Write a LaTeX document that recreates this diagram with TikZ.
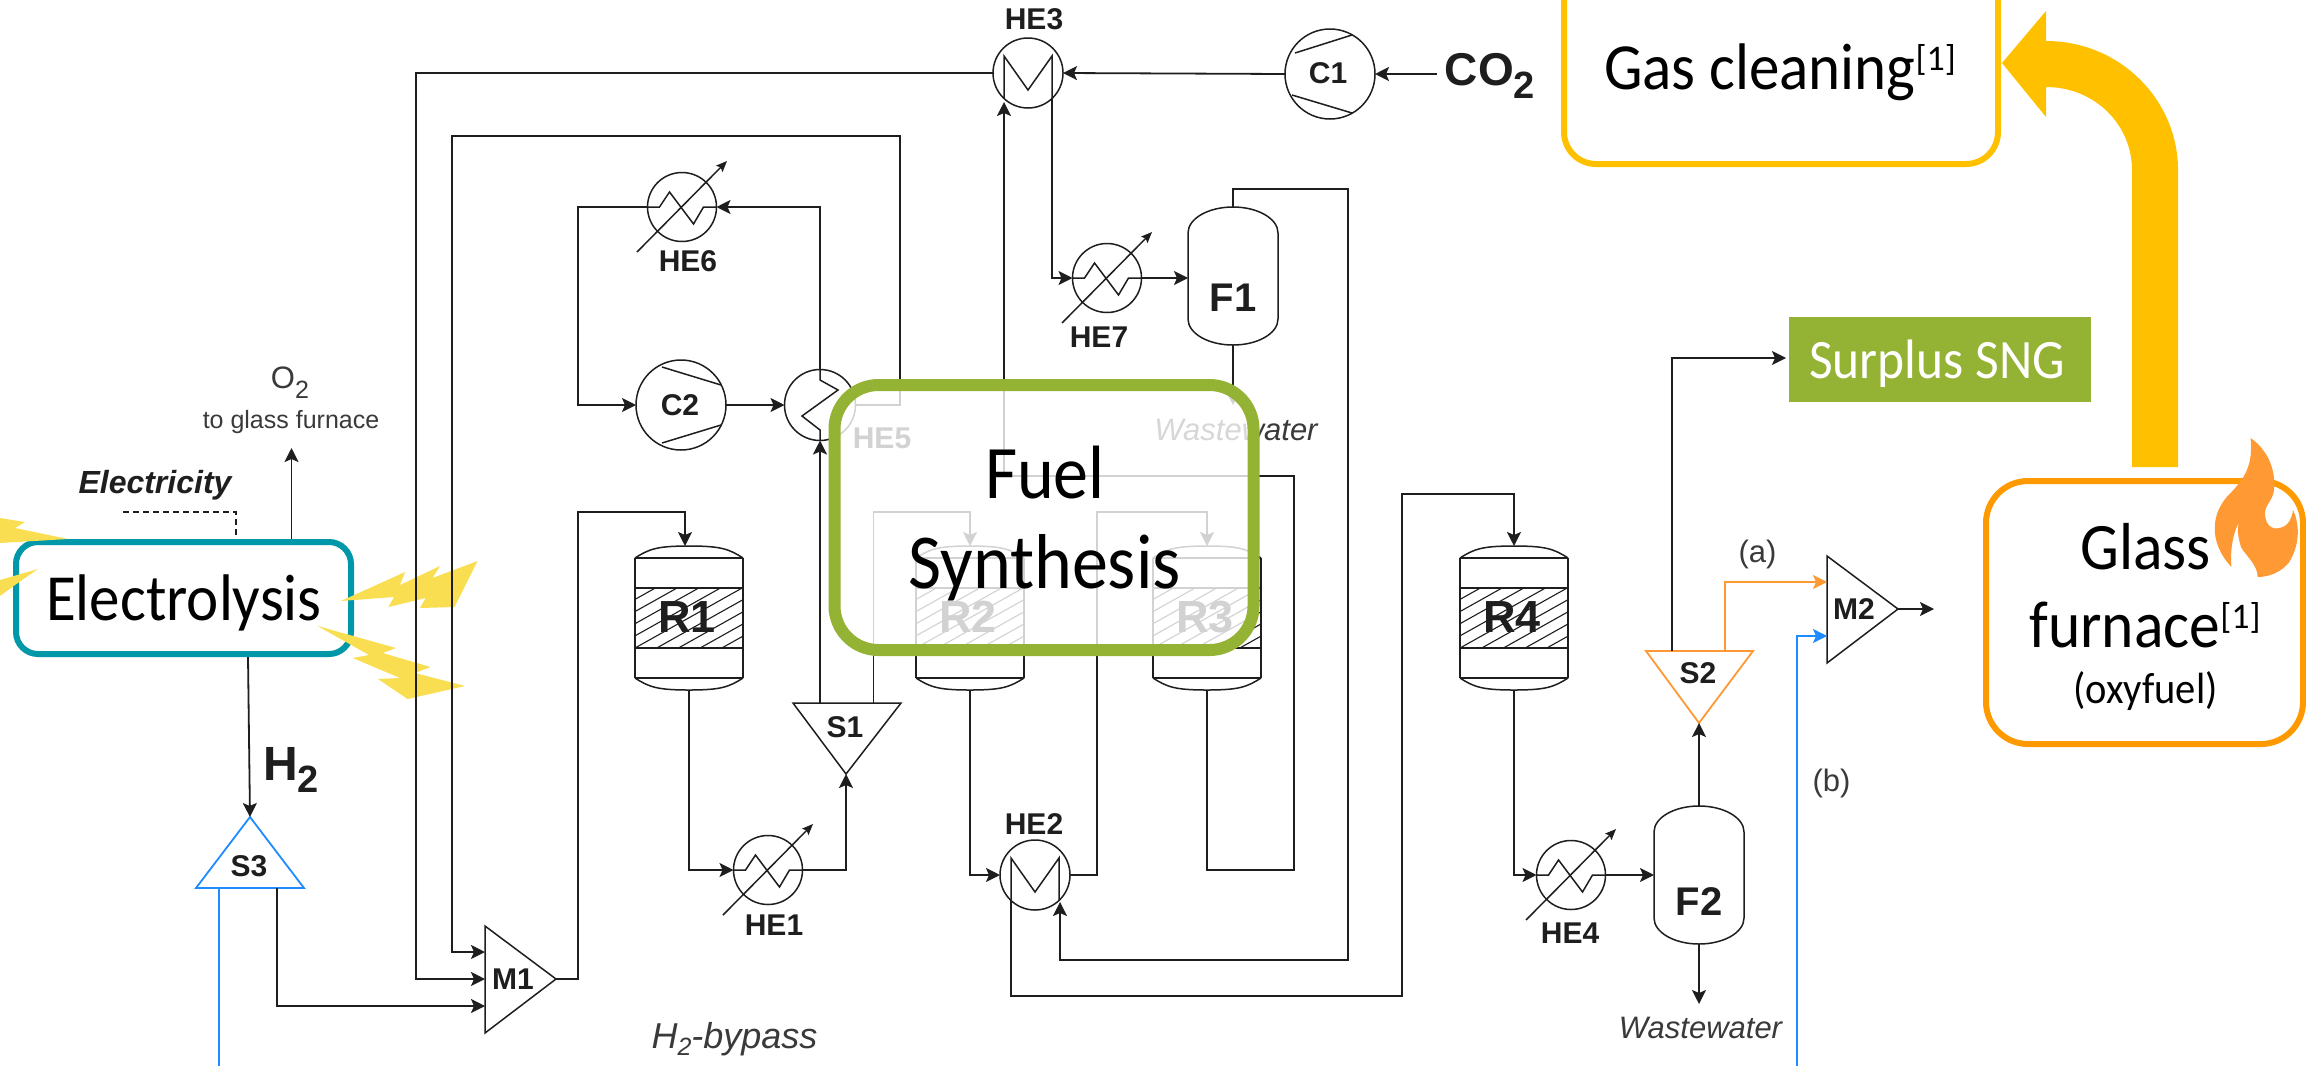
\documentclass[tikz,border=0pt]{standalone}
\usepackage{fontspec}
\setmainfont{Carlito}
\newfontfamily\arialf{Liberation Sans}
\usetikzlibrary{arrows.meta,calc}
\definecolor{ink}{HTML}{1E1E1E}
\definecolor{softink}{HTML}{3A3A3A}
\definecolor{teal1}{HTML}{0097A9}
\definecolor{gold1}{HTML}{FFC000}
\definecolor{orng}{HTML}{FF9900}
\definecolor{orng2}{HTML}{FF9933}
\definecolor{bolt}{HTML}{F9DE52}
\definecolor{grn}{HTML}{94B233}
\definecolor{blu}{HTML}{1E8CFF}
\newcommand\fsz[1]{\fontsize{#1}{#1}\selectfont}
\newcommand\tallr[1]{\scalebox{1}[1.08]{#1}}
\tikzset{
  pipe/.style={draw=ink,line width=1.8pt,line join=miter},
  flow/.style={pipe,-{Stealth[length=14pt,width=14pt,inset=3pt]}},
  unitline/.style={draw=ink,line width=1.5pt},
  he/.style={circle,draw=ink,line width=1.5pt,minimum size=69pt,inner sep=0pt,outer sep=0pt},
  comp/.style={circle,draw=ink,line width=1.5pt,minimum size=90pt,inner sep=0pt,outer sep=0pt},
  lab/.style={font=\arialf\bfseries\fsz{30},text=ink,inner sep=0pt},
  biglab/.style={font=\arialf\bfseries\fsz{45},text=ink,inner sep=0pt},
  flab/.style={font=\arialf\bfseries\fsz{40},text=ink,inner sep=0pt},
  boxtxt/.style={anchor=base,inner sep=0pt,text=black},
  note/.style={anchor=base,inner sep=0pt,text=softink,font=\arialf\fsz{25}},
  wast/.style={anchor=base,inner sep=0pt,text=softink,font=\arialf\itshape\fsz{31}},
  ghost/.style={inner sep=0pt,outer sep=0pt,draw=none,fill=none},
}
% heat exchanger with cooling arrow: zigzag and diagonal
\newcommand\coolmark[1]{%
  \draw[unitline] (#1.west) -- ++(12,0) -- ++(10,-15) -- ++(24,32) -- ++(10,-17) -- (#1.east);
  \draw[unitline,-{Stealth[length=11pt,width=9pt,inset=2pt]}] ([shift={(-45,45)}]#1.center) -- ([shift={(45,-46)}]#1.center);
}
% recuperator: M shape
\newcommand\mmark[1]{%
  \draw[unitline] ([shift={(-24,25)}]#1.center) -- ++(0,-42) -- ++(24,34) -- ++(24,-34) -- ++(0,42);
}
% reactor: name, centre x, label
\newcommand\reactor[3]{%
  \node[ghost,minimum width=108pt,minimum height=144pt] (#1) at (#2,618) {};
  \fill[white] ([yshift=-12pt]#1.north west) .. controls +(14,-9) and +(-32,0) .. (#1.north) .. controls +(32,0) and +(-14,-9) .. ([yshift=-12pt]#1.north east) -- ([yshift=12pt]#1.south east) .. controls +(-14,9) and +(32,0) .. (#1.south) .. controls +(-32,0) and +(14,9) .. ([yshift=12pt]#1.south west) -- cycle;
  \begin{scope}
    \clip ([yshift=-42pt]#1.north west) rectangle ([yshift=42pt]#1.south east);
    \foreach \k in {-6,...,9}{
      \draw[draw=ink,line width=1.1pt] ($(#1.north west)+(\k*21.7,102)$) -- ++(150,-84);
    }
  \end{scope}
  \draw[unitline] ([yshift=-12pt]#1.north west) .. controls +(14,-9) and +(-32,0) .. (#1.north) .. controls +(32,0) and +(-14,-9) .. ([yshift=-12pt]#1.north east);
  \draw[unitline] ([yshift=12pt]#1.south west) .. controls +(14,9) and +(-32,0) .. (#1.south) .. controls +(32,0) and +(-14,9) .. ([yshift=12pt]#1.south east);
  \draw[unitline] ([yshift=-12pt]#1.north west) -- ([yshift=12pt]#1.south west);
  \draw[unitline] ([yshift=-12pt]#1.north east) -- ([yshift=12pt]#1.south east);
  \foreach \s/\d in {north/-12,north/-42,south/42,south/12}{
    \draw[unitline,line width=2pt] ([yshift=\d pt]#1.\s\space west) -- ([yshift=\d pt]#1.\s\space east);
  }
  \node[biglab] at (#2-2,617) {#3};
}
% flash drum: name, cx, top, bottom, label, label y
\newcommand\flash[6]{%
  \node[ghost,minimum width=90pt,minimum height=#4pt-#3pt] (#1) at (#2,{(#3+#4)/2}) {};
  \draw[unitline] ([yshift=-26pt]#1.north west) arc[x radius=45,y radius=-26,start angle=180,end angle=0] -- ([yshift=26pt]#1.south east) arc[x radius=45,y radius=-26,start angle=0,end angle=-180] -- cycle;
  \node[flab] at (#2,#6) {#5};
}
\begin{document}
\begin{tikzpicture}[x=1pt,y=-1pt]
\path[use as bounding box,fill=white] (0,0) rectangle (2306,1066);

% ---------- equipment ----------
\node[he,minimum size=70pt] (HE3) at (1028,73) {};
\mmark{HE3}
\node[lab] (HE3l) at (1034,19) {HE3};
\node[comp] (C1) at (1330,74) {};
\draw[unitline] (1295,53) -- (1352,35) (1292,95) -- (1352,113);
\node[lab] (C1l) at (1328,73) {C1};
\node[he] (HE6) at (682,207) {};
\coolmark{HE6}
\node[lab] (HE6l) at (688,261) {HE6};
\node[comp] (C2) at (681,405) {};
\draw[unitline] (662,367) -- (721,385) (662,443) -- (721,425);
\node[lab] (C2l) at (680,405) {C2};
\node[he,minimum size=71pt] (HE5) at (820,405) {};
\draw[unitline] (HE5.south) -- (820,430) -- (802,416) -- (838,390) -- (820,380) -- (HE5.north);
\node[lab,anchor=center] (HE5l) at (882,438) {HE5};
\node[he] (HE7) at (1107,278) {};
\coolmark{HE7}
\node[lab] (HE7l) at (1099,337) {HE7};
\flash{F1}{1233}{207}{345}{F1}{298}
\node[he] (HE1) at (768,870) {};
\coolmark{HE1}
\node[lab] (HE1l) at (774,925) {HE1};
\node[he,minimum size=70pt] (HE2) at (1035,875) {};
\mmark{HE2}
\node[lab] (HE2l) at (1034,824) {HE2};
\node[he] (HE4) at (1571,875) {};
\coolmark{HE4}
\node[lab] (HE4l) at (1570,933) {HE4};
\flash{F2}{1699}{806}{944}{F2}{902}
\reactor{R1}{689}{R1}
\reactor{R2}{970}{R2}
\reactor{R3}{1207}{R3}
\reactor{R4}{1514}{R4}

% splitters and mixers
\coordinate (S1a) at (793,703); \coordinate (S1b) at (901,703); \coordinate (S1t) at (846,774);
\draw[unitline] (S1a) -- (S1b) -- (S1t) -- cycle;
\node[lab] (S1) at (845,727) {S1};
\coordinate (S2a) at (1646,651); \coordinate (S2b) at (1753,651); \coordinate (S2t) at (1699,723);
\draw[draw=orng2,line width=1.8pt] (S2a) -- (S2b) -- (S2t) -- cycle;
\node[lab] (S2) at (1698,673) {S2};
\coordinate (S3a) at (196,888); \coordinate (S3b) at (304,888); \coordinate (S3t) at (250,817);
\draw[draw=blu,line width=1.8pt] (S3a) -- (S3b) -- (S3t) -- cycle;
\node[lab] (S3) at (249,866) {S3};
\coordinate (M1a) at (485,926); \coordinate (M1b) at (485,1033); \coordinate (M1t) at (556,979);
\draw[unitline] (M1a) -- (M1b) -- (M1t) -- cycle;
\node[lab] (M1) at (513,979) {M1};
\coordinate (M2a) at (1827,556); \coordinate (M2b) at (1827,663); \coordinate (M2t) at (1898,609);
\draw[unitline] (M2a) -- (M2b) -- (M2t) -- cycle;
\node[lab] (M2) at (1854,609) {M2};

% ---------- process boxes ----------
\node[draw=teal1,line width=6pt,fill=white,rounded corners=22pt,minimum width=335pt,minimum height=112pt,inner sep=0pt] (EL) at (183.5,598) {};
\node[boxtxt,font=\fsz{61}] (ELt) at (184,620) {\tallr{Electrolysis}};
\node[draw=gold1,line width=6pt,fill=white,rounded corners=32pt,minimum width=434pt,minimum height=204pt,inner sep=0pt] (GC) at (1781,62) {};
\node[boxtxt,font=\fsz{61}] (GCt) at (1780,89) {\tallr{Gas cleaning}\raisebox{19pt}{\fsz{36}[1]}};
\node[draw=none,fill=grn,minimum width=302pt,minimum height=85pt,inner sep=0pt] (SNG) at (1940,359.5) {};
\node[boxtxt,font=\fsz{51.5},text=white] (SNGt) at (1937,378) {\tallr{Surplus SNG}};
\node[draw=orng,line width=6pt,fill=white,rounded corners=42pt,minimum width=317pt,minimum height=263pt,inner sep=0pt] (GF) at (2144.5,612.5) {};
\node[boxtxt,font=\fsz{61.5}] (GFa) at (2145.5,569) {\tallr{Glass}};
\node[boxtxt,font=\fsz{61.5}] (GFb) at (2145,647) {\tallr{furnace}\raisebox{19pt}{\fsz{36}[1]}};
\node[boxtxt,font=\fsz{40.5}] (GFc) at (2145.5,703) {\tallr{(oxyfuel)}};

% flame
\fill[orng2] (2250.5,438) .. controls (2268,450) and (2276,470) .. (2274,490) .. controls (2273,500) and (2265,505) .. (2265,513)
  .. controls (2265,525) and (2272,530) .. (2279,528) .. controls (2288,527) and (2292,518) .. (2293,510)
  .. controls (2300,525) and (2300,545) .. (2288.6,563) .. controls (2280,573) and (2268,577) .. (2257.6,577)
  .. controls (2258,565) and (2245,555) .. (2241,547) .. controls (2238,537) and (2237,530) .. (2238.6,523)
  .. controls (2232,535) and (2230,555) .. (2231.4,567) .. controls (2220,555) and (2214,540) .. (2214.8,527)
  .. controls (2215,515) and (2220,505) .. (2226.7,497) .. controls (2240,483) and (2254,470) .. (2250.5,438) -- cycle;

% big yellow arrow, glass furnace to gas cleaning
\fill[gold1] (2132,467) -- (2132,170) .. controls (2132,125) and (2095,87) .. (2046,87) -- (2046,117) -- (2002,63) -- (2046,11) -- (2046,41)
  .. controls (2120,41) and (2178,100) .. (2178,170) -- (2178,467) -- cycle;

% lightning
\fill[bolt] (341,601) -- (405,572) -- (400,585) -- (440,566) -- (432.5,578) -- (477.6,561) -- (454.6,607) -- (420,608) -- (425.6,598) -- (388.4,607) -- (394,597) -- cycle;
\fill[bolt] (317.6,626) -- (396,648) -- (382.7,653) -- (430.5,667) -- (415,673) -- (465,686) -- (407.6,699) -- (378,679) -- (400,678) -- (352.8,658) -- (369,655) -- cycle;
\fill[bolt] (68,539) -- (15,528) -- (25,522) -- (0,518) -- (0,543) -- cycle;
\fill[bolt] (38,569) -- (15,585) -- (0,596) -- (0,580) -- cycle;

% ---------- connectors ----------
\coordinate (O2end) at (291.5,448);
\draw[flow] (EL.north -| O2end) -- (O2end);
\coordinate (elecA) at (123,512);
\draw[draw=ink,line width=1.6pt,dash pattern=on 6pt off 4pt] (elecA) -| ($(EL.north)+(52.5,-4)$);
\draw[flow] (EL.south -| 248,0) -- (S3t);
\draw[draw=blu,line width=1.8pt] (219,888) -- (219,1066);
\draw[flow] (277,888) -- (277,1006) -- (277,1006 -| M1a);
\coordinate (CO2in) at (1437,74);
\draw[flow] (CO2in) -- (C1.east);
\draw[flow] (C1.west) -- (HE3.east);
\draw[flow] (HE3.west) -- (416,73) -- (416,979) -- (416,979 -| M1a);
\draw[flow] (HE5.east) -- (900,405) -- (900,136) -- (452,136) -- (452,952) -- (452,952 -| M1a);
\draw[flow] (M1t) -- (578,979) -- (578,512) -- (685,512) -- (685,0 |- R1.north);
\draw[flow] (HE6.west) -- (578,207) -- (578,405) -- (C2.west);
\draw[flow] (C2.east) -- (HE5.west);
\draw[flow] (820,703) -- (HE5.south);
\draw[flow] (HE5.north) -- (820,207) -- (HE6.east);
\draw[flow] (873.5,703) -- (873.5,512) -- (970,512) -- (R2.north);
\draw[flow] (R1.south) -- (689,870) -- (HE1.west);
\draw[flow] (HE1.east) -- (846,870) -- (S1t);
\draw[flow] (R2.south) -- (970,875) -- (HE2.west);
\draw[flow] (HE2.east) -- (1097,875) -- (1097,512) -- (1207,512) -- (R3.north);
\draw[flow] (R3.south) -- (1207,870) -- (1294,870) -- (1294,476) -- (1004,476) -- (1004,102);
\draw[flow] (1052,98) -- (1052,278) -- (HE7.west);
\draw[flow] (HE7.east) -- (HE7.east -| F1.west);
\draw[flow] (F1.south) -- (1233,405);
\draw[flow] (F1.north) -- (1233,189) -- (1348,189) -- (1348,960) -- (1060,960) -- (1060,902);
\draw[flow] (1011,900) -- (1011,996) -- (1402,996) -- (1402,494) -- (1514,494) -- (R4.north);
\draw[flow] (R4.south) -- (1514,875) -- (HE4.west);
\draw[flow] (HE4.east) -- (HE4.east -| F2.west);
\draw[flow] (F2.north) -- (S2t);
\draw[flow] (F2.south) -- (1699,1004);
\draw[flow] (1672,651) -- (1672,358) -- (1786,358);
\draw[flow,draw=orng2,-{Stealth[length=14pt,width=14pt,inset=3pt,color=orng2]}] (1725,651) -- (1725,582) -- (1725,582 -| M2a);
\draw[flow,draw=blu,-{Stealth[length=14pt,width=14pt,inset=3pt,color=blu]}] (1797,1066) -- (1797,636) -- (1797,636 -| M2a);
\coordinate (M2out) at (1934,609);
\draw[flow] (M2t) -- (M2out);

% ---------- free labels ----------
\node[anchor=base,inner sep=0pt,text=softink,font=\arialf\fsz{31}] (O2l) at (290,388) {O\raisebox{-10pt}{\fsz{25}2}};
\node[note] (tgf) at (291,428) {to glass furnace};
\node[anchor=base,inner sep=0pt,text=ink,font=\arialf\bfseries\itshape\fsz{32}] (elec) at (155,493) {Electricity};
\node[anchor=base,inner sep=0pt,text=ink,font=\arialf\bfseries\fsz{48}] (H2l) at (291,780) {H\raisebox{-12pt}{\fsz{38}2}};
\node[anchor=base,inner sep=0pt,text=ink,font=\arialf\bfseries\fsz{46}] (CO2l) at (1490,85) {CO\raisebox{-13pt}{\fsz{38}2}};
\node[anchor=base,inner sep=0pt,text=softink,font=\arialf\itshape\fsz{36}] (byp) at (734.5,1048) {H\raisebox{-7pt}{\fsz{25}2}-bypass};
\node[wast] (W1) at (1236,440) {Wastewater};
\node[wast] (W2) at (1700.5,1038) {Wastewater};
\node[anchor=center,inner sep=0pt,text=softink,font=\arialf\fsz{31}] (la) at (1757.5,554) {(a)};
\node[anchor=center,inner sep=0pt,text=softink,font=\arialf\fsz{31}] (lb) at (1831.5,783) {(b)};

% ---------- translucent fuel synthesis box on top ----------
\node[draw=grn,line width=12pt,fill=white,fill opacity=0.8,draw opacity=1,rounded corners=44pt,minimum width=419pt,minimum height=265pt,inner sep=0pt] (FS) at (1044,517.5) {};
\node[boxtxt,font=\fsz{70}] (FSa) at (1045,498) {\tallr{Fuel}};
\node[boxtxt,font=\fsz{72}] (FSb) at (1044.5,588) {\tallr{Synthesis}};
\end{tikzpicture}
\end{document}
